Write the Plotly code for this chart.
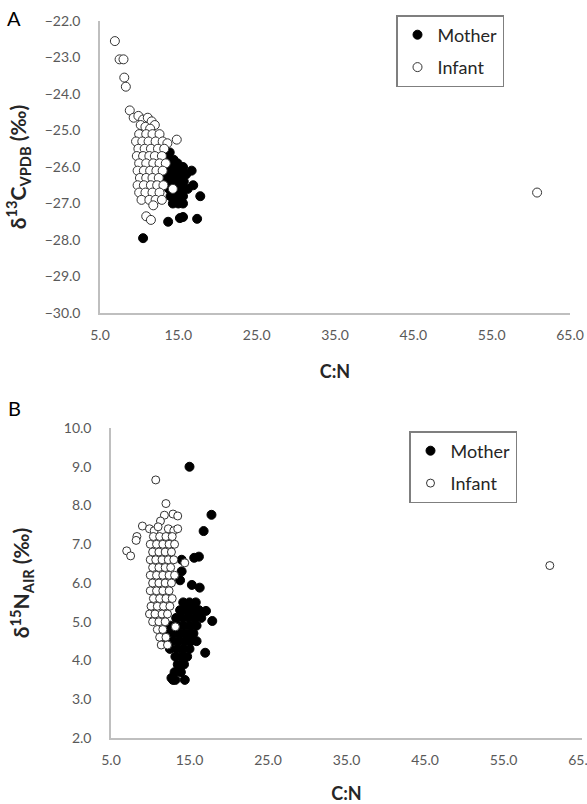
import plotly.graph_objects as go

# ---------------- Panel A data: C:N vs d13C ----------------
cn_mother_a = [13.9, 13.6, 14.4, 13.3, 14.1, 14.9, 15.6, 13.6, 14.4, 15.2, 16.0,
               13.4, 14.2, 15.0, 15.7, 13.8, 14.7, 15.4, 16.2, 14.0, 14.8, 15.6,
               14.3, 15.0, 15.6, 16.7, 16.9, 17.8, 13.7, 15.2, 15.6, 17.4, 10.5,
               14.9, 13.5]
d13c_mother = [-25.6, -25.8, -25.8, -26.0, -26.0, -26.0, -26.0, -26.2, -26.2, -26.2, -26.2,
               -26.4, -26.4, -26.4, -26.4, -26.6, -26.6, -26.6, -26.6, -26.8, -26.8, -26.8,
               -27.0, -27.0, -27.0, -26.1, -26.5, -26.8, -27.5, -27.4, -27.37, -27.42, -27.95,
               -25.9, -25.75]

cn_infant_a = [6.9, 7.5, 8.0, 8.1, 8.3, 8.8, 9.3, 9.9, 10.5, 11.1, 11.6, 12.0,
               10.2, 10.8, 11.4, 14.8,
               10.0, 10.9, 11.7, 12.6,
               9.6, 10.4, 11.2, 12.1, 13.0, 13.6,
               9.9, 10.7, 11.5, 12.4, 13.2,
               9.7, 10.5, 11.3, 12.0, 12.9,
               10.0, 10.9, 11.8, 12.6, 13.4,
               9.8, 10.6, 11.4, 12.2, 13.0,
               10.1, 10.9, 11.7, 12.5,
               9.8, 10.6, 11.5, 12.3, 13.1,
               10.0, 10.8, 11.7, 12.6,
               10.3, 11.3, 12.1, 12.9,
               11.8, 10.9, 11.5, 14.3, 60.8]
d13c_infant = [-22.55, -23.05, -23.05, -23.55, -23.8, -24.45, -24.65, -24.6, -24.7, -24.65, -24.75, -24.85,
               -24.85, -24.9, -24.95, -25.25,
               -25.1, -25.1, -25.1, -25.1,
               -25.3, -25.3, -25.3, -25.3, -25.3, -25.35,
               -25.5, -25.5, -25.5, -25.5, -25.5,
               -25.7, -25.7, -25.7, -25.7, -25.7,
               -25.9, -25.9, -25.9, -25.9, -25.9,
               -26.1, -26.1, -26.1, -26.1, -26.1,
               -26.3, -26.3, -26.3, -26.3,
               -26.5, -26.5, -26.5, -26.5, -26.5,
               -26.7, -26.7, -26.7, -26.7,
               -26.9, -26.9, -26.9, -26.9,
               -27.05, -27.35, -27.45, -26.6, -26.7]

# ---------------- Panel B data: C:N vs d15N ----------------
cn_mother_b = [15.0, 17.8, 16.8, 15.6, 16.2, 14.0, 14.0, 13.8, 15.3, 16.3, 17.1, 17.9, 17.0,
               14.2, 15.0, 15.8,
               13.8, 14.6, 15.4, 16.2,
               13.3, 14.1, 14.9, 15.7, 16.5,
               12.6, 13.5, 14.3, 15.1, 15.9,
               12.2, 13.1, 13.9, 14.7, 15.5,
               11.9, 12.8, 13.6, 14.4, 15.2, 15.9,
               12.5, 13.4, 14.2, 15.0,
               13.2, 14.0, 14.7,
               13.5, 14.3,
               13.1, 13.9,
               12.7, 12.9, 13.2, 14.4]
d15n_mother = [9.0, 7.76, 7.34, 6.65, 6.68, 6.6, 6.3, 6.07, 5.95, 5.88, 5.28, 5.02, 4.2,
               5.5, 5.5, 5.5,
               5.3, 5.3, 5.3, 5.3,
               5.1, 5.1, 5.1, 5.1, 5.1,
               4.9, 4.9, 4.9, 4.9, 4.9,
               4.7, 4.7, 4.7, 4.7, 4.7,
               4.5, 4.5, 4.5, 4.5, 4.5, 4.5,
               4.3, 4.3, 4.3, 4.3,
               4.1, 4.1, 4.1,
               3.9, 3.9,
               3.7, 3.7,
               3.55, 3.5, 3.5, 3.5]

cn_infant_b = [10.7, 12.0, 11.8, 12.9, 13.5, 11.3, 9.0, 8.3, 8.2, 7.0, 7.5,
               9.9, 10.5, 11.0, 12.3, 13.0, 13.5,
               10.4, 11.2, 12.0, 12.8,
               10.0, 10.8, 11.6, 12.4, 13.1,
               10.3, 11.1, 11.9, 12.7,
               10.0, 10.7, 11.5, 12.3, 13.0,
               10.3, 11.1, 11.9, 12.6,
               10.0, 10.8, 11.6, 12.4, 13.1,
               10.3, 11.1, 11.9, 12.7,
               10.0, 10.8, 11.6, 12.4,
               10.4, 11.2, 12.0, 12.8,
               10.1, 10.9, 11.7, 12.5,
               9.9, 10.6, 11.5, 12.2,
               10.3, 11.1, 11.9,
               10.9, 11.6, 13.2,
               11.2, 12.0,
               11.4, 12.2,
               14.4, 60.9]
d15n_infant = [8.66, 8.05, 7.75, 7.78, 7.73, 7.6, 7.47, 7.2, 7.1, 6.83, 6.7,
               7.4, 7.35, 7.45, 7.4, 7.35, 7.4,
               7.2, 7.2, 7.2, 7.2,
               7.0, 7.0, 7.0, 7.0, 7.0,
               6.8, 6.8, 6.8, 6.8,
               6.6, 6.6, 6.6, 6.6, 6.6,
               6.4, 6.4, 6.4, 6.4,
               6.2, 6.2, 6.2, 6.2, 6.2,
               6.0, 6.0, 6.0, 6.0,
               5.8, 5.8, 5.8, 5.8,
               5.6, 5.6, 5.6, 5.6,
               5.4, 5.4, 5.4, 5.4,
               5.2, 5.2, 5.2, 5.2,
               5.0, 5.0, 5.0,
               4.8, 4.8, 4.87,
               4.6, 4.6,
               4.4, 4.4,
               6.52, 6.45]

x_ticks = [5.0, 15.0, 25.0, 35.0, 45.0, 55.0, 65.0]
y_ticks_a = [-30.0, -29.0, -28.0, -27.0, -26.0, -25.0, -24.0, -23.0, -22.0]
y_ticks_b = [2.0, 3.0, 4.0, 5.0, 6.0, 7.0, 8.0, 9.0, 10.0]

W, H = 587, 804
FONT = "Lato"
TICKCOL = "#595959"
AXCOL = "#bfbfbf"

mother_marker = dict(symbol="circle", size=9, color="black", line=dict(color="black", width=1))
infant_marker = dict(symbol="circle", size=9, color="white", line=dict(color="#333333", width=1))
infant_marker_b = dict(symbol="circle", size=8, color="white", line=dict(color="#333333", width=1))

fig = go.Figure()
fig.add_trace(go.Scatter(x=cn_mother_a, y=d13c_mother, mode="markers", name="Mother",
                         marker=mother_marker, xaxis="x", yaxis="y", legend="legend",
                         legendgroup="m_a"))
fig.add_trace(go.Scatter(x=cn_infant_a, y=d13c_infant, mode="markers", name="Infant",
                         marker=infant_marker, xaxis="x", yaxis="y", legend="legend",
                         legendgroup="i_a"))
fig.add_trace(go.Scatter(x=cn_mother_b, y=d15n_mother, mode="markers", name="Mother",
                         marker=mother_marker, xaxis="x2", yaxis="y2", legend="legend2",
                         legendgroup="m_b"))
fig.add_trace(go.Scatter(x=cn_infant_b, y=d15n_infant, mode="markers", name="Infant",
                         marker=infant_marker_b, xaxis="x2", yaxis="y2", legend="legend2",
                         legendgroup="i_b"))


def px_x(p):
    return p / W


def px_y(p):
    return 1 - p / H


tickfont = dict(family=FONT, size=14, color=TICKCOL)
titlefont = dict(family=FONT, size=21, color="#262626", weight="bold")
xtitlefont = dict(family=FONT, size=18, color="#262626", weight="bold")

common_x = dict(range=[5, 65], tickvals=x_ticks, tickformat=".1f", showgrid=False, zeroline=False,
                showline=True, linecolor=AXCOL, linewidth=1.5, ticks="", ticklabelstandoff=8,
                ticklabeloverflow="allow",
                tickfont=tickfont, fixedrange=True, automargin=False)
common_y = dict(showgrid=False, zeroline=False, showline=True, linecolor=AXCOL, linewidth=1.5,
                ticks="", ticklabelstandoff=15, tickfont=tickfont,
                tickformat=".1f", fixedrange=True, automargin=False)

legend_common = dict(bgcolor="white", bordercolor="#7f7f7f", borderwidth=1.5,
                     font=dict(family=FONT, size=18, color="#262626"),
                     xanchor="left", yanchor="top", tracegroupgap=6, itemwidth=30)

fig.update_layout(
    width=W, height=H, margin=dict(l=0, r=0, t=0, b=0, autoexpand=False),
    paper_bgcolor="white", plot_bgcolor="white",
    xaxis=dict(common_x, domain=[px_x(100), px_x(570)], anchor="y",
               title=dict(text="C:N", font=xtitlefont, standoff=24)),
    yaxis=dict(common_y, domain=[px_y(313), px_y(21)], anchor="x", range=[-30, -22],
               tickvals=y_ticks_a,
               title=dict(text="δ<sup>13</sup>C<sub>VPDB</sub> (‰)", font=titlefont, standoff=12)),
    xaxis2=dict(common_x, domain=[px_x(111), px_x(582)], anchor="y2",
                title=dict(text="C:N", font=xtitlefont, standoff=22)),
    yaxis2=dict(common_y, domain=[px_y(738), px_y(428)], anchor="x2", range=[2, 10],
                tickvals=y_ticks_b,
                title=dict(text="δ<sup>15</sup>N<sub>AIR</sub> (‰)", font=titlefont, standoff=28)),
    legend=dict(legend_common, x=px_x(396), y=px_y(15)),
    legend2=dict(legend_common, x=px_x(409), y=px_y(431)),
    annotations=[
        dict(text="A", x=px_x(14), y=px_y(18), xref="paper", yref="paper", showarrow=False,
             font=dict(family=FONT, size=20, color="black"), xanchor="center", yanchor="middle"),
        dict(text="B", x=px_x(14), y=px_y(408), xref="paper", yref="paper", showarrow=False,
             font=dict(family=FONT, size=20, color="black"), xanchor="center", yanchor="middle"),
    ],
)

fig.write_html("out.html", config={"displayModeBar": False},
               post_script="document.body.style.margin='0';")
